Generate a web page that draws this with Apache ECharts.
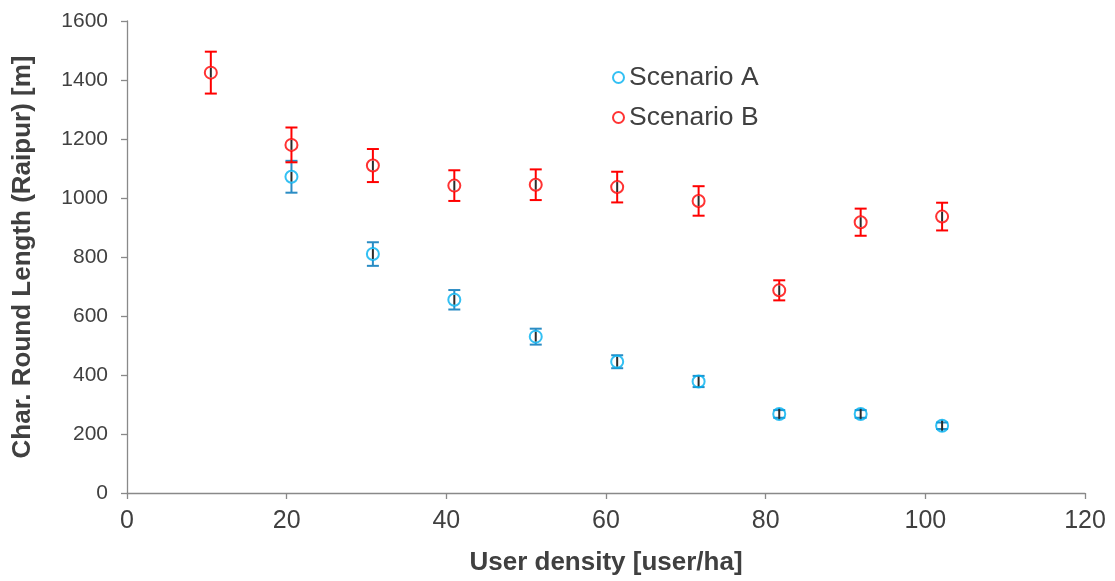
<!DOCTYPE html>
<html>
<head>
<meta charset="utf-8">
<script src="https://cdn.jsdelivr.net/npm/echarts@6/dist/echarts.min.js"></script>
<style>
  html, body { margin: 0; padding: 0; background: #fff; }
  #chart { width: 1115px; height: 581px; }
</style>
</head>
<body>
<div id="chart"></div>
<script>
// User density [user/ha] for each measurement
const densityA = [20.6, 30.8, 41.0, 51.2, 61.4, 71.6, 81.7, 91.9, 102.1];
const densityB = [10.5, 20.6, 30.8, 41.0, 51.2, 61.4, 71.6, 81.7, 91.9, 102.1];

// Characteristic round length [m] and its error (+/-)
const lengthA = [1072, 810, 655, 530, 445, 378, 268, 268, 228];
const errorA  = [54, 40, 33, 27, 22, 19, 13, 13, 11];
const lengthB = [1425, 1180, 1110, 1042, 1045, 1037, 990, 687, 918, 937];
const errorB  = [71, 59, 56, 52, 52, 52, 50, 34, 46, 47];

const seriesNames = ['Scenario A', 'Scenario B'];

const FONT = 'Liberation Sans, Arial, sans-serif';
const TEXT = '#404040';
const AXIS = '#898989';
const R = 6; // marker radius in px

function points(xs, ys, es) {
  return xs.map((x, i) => [x, ys[i], es[i]]);
}

// Error bar with caps; the segment inside the hollow marker is dark.
function errorBarRenderer(color) {
  return function (params, api) {
    const x = api.value(0), y = api.value(1), e = api.value(2);
    const c = api.coord([x, y]);
    const top = api.coord([x, y + e]);
    const bot = api.coord([x, y - e]);
    const hw = 6;
    const style = { stroke: color, lineWidth: 2 };
    return {
      type: 'group',
      children: [
        { type: 'line', shape: { x1: c[0], y1: top[1], x2: c[0], y2: c[1] - R }, style },
        { type: 'line', shape: { x1: c[0], y1: c[1] + R, x2: c[0], y2: bot[1] }, style },
        { type: 'line', shape: { x1: c[0] - hw, y1: top[1], x2: c[0] + hw, y2: top[1] }, style },
        { type: 'line', shape: { x1: c[0] - hw, y1: bot[1], x2: c[0] + hw, y2: bot[1] }, style },
        { type: 'line', shape: { x1: c[0], y1: c[1] - R + 1, x2: c[0], y2: c[1] + R - 1 },
          style: { stroke: '#2b2b2b', lineWidth: 2 } }
      ]
    };
  };
}

const dataA = points(densityA, lengthA, errorA);
const dataB = points(densityB, lengthB, errorB);

const chart = echarts.init(document.getElementById('chart'), null, { renderer: 'canvas' });

chart.setOption({
  animation: false,
  backgroundColor: '#ffffff',
  grid: { left: 127, right: 30, top: 21, bottom: 88, containLabel: false, outerBoundsMode: 'none' },
  legend: {
    data: [
      { name: seriesNames[0], icon: 'circle' },
      { name: seriesNames[1], icon: 'circle' }
    ],
    orient: 'vertical',
    left: 607,
    top: 59,
    itemWidth: 11,
    itemHeight: 11,
    itemGap: 13,
    textStyle: { fontFamily: FONT, fontSize: 26.5, color: TEXT, padding: [0, 0, 0, 0] }
  },
  xAxis: {
    type: 'value',
    min: 0, max: 120, interval: 20,
    name: 'User density [user/ha]',
    nameLocation: 'middle',
    nameGap: 57,
    nameTextStyle: { fontFamily: FONT, fontSize: 26, fontWeight: 'bold', color: TEXT },
    axisLine: { show: true, onZero: false, lineStyle: { color: AXIS, width: 1.3 } },
    axisTick: { show: true, length: 6, inside: false, lineStyle: { color: AXIS, width: 1.3 } },
    axisLabel: { fontFamily: FONT, fontSize: 25, color: TEXT, margin: 16 },
    splitLine: { show: false }
  },
  yAxis: {
    type: 'value',
    min: 0, max: 1600, interval: 200,
    name: 'Char. Round Length (Raipur) [m]',
    nameLocation: 'middle',
    nameGap: 91,
    nameRotate: 90,
    nameTextStyle: { fontFamily: FONT, fontSize: 26, fontWeight: 'bold', color: TEXT },
    axisLine: { show: true, lineStyle: { color: AXIS, width: 1.3 } },
    axisTick: { show: true, length: 6, inside: false, lineStyle: { color: AXIS, width: 1.3 } },
    axisLabel: { fontFamily: FONT, fontSize: 21, color: TEXT, margin: 19,
                 formatter: v => String(v) },
    splitLine: { show: false }
  },
  series: [
    {
      name: 'errA',
      type: 'custom',
      renderItem: errorBarRenderer('#2a8cc4'),
      data: dataA,
      encode: { x: 0, y: 1 },
      z: 2,
      silent: true
    },
    {
      name: 'errB',
      type: 'custom',
      renderItem: errorBarRenderer('#ff0000'),
      data: dataB,
      encode: { x: 0, y: 1 },
      z: 2,
      silent: true
    },
    {
      name: seriesNames[0],
      type: 'scatter',
      symbol: 'circle',
      symbolSize: 2 * R,
      data: dataA.map(d => [d[0], d[1]]),
      itemStyle: { color: 'rgba(255,255,255,0)', borderColor: '#00b0f0', borderWidth: 2 },
      z: 3
    },
    {
      name: seriesNames[1],
      type: 'scatter',
      symbol: 'circle',
      symbolSize: 2 * R,
      data: dataB.map(d => [d[0], d[1]]),
      itemStyle: { color: 'rgba(255,255,255,0)', borderColor: '#ff0000', borderWidth: 2 },
      z: 3
    }
  ]
});
</script>
</body>
</html>
